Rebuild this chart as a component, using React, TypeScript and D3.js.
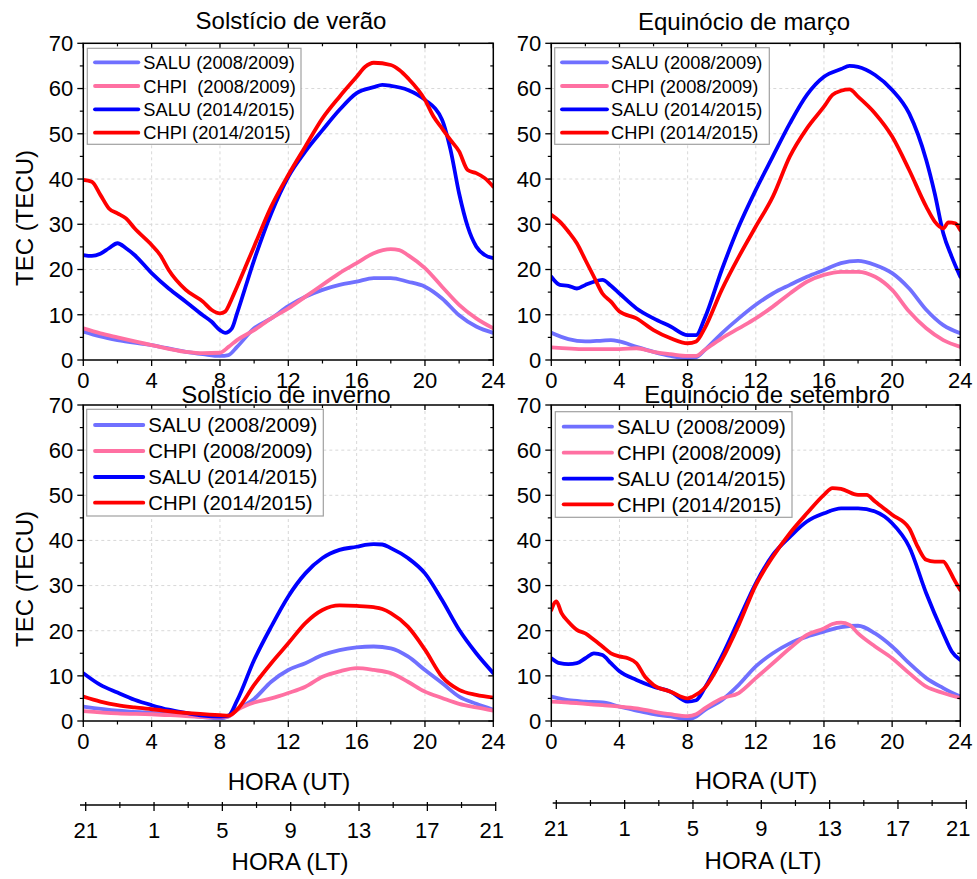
import React from "react";
import * as d3 from "d3";

type Pt = [number, number];

const utTicks = [0, 4, 8, 12, 16, 20, 24];
const tecTicks = [0, 10, 20, 30, 40, 50, 60, 70];
const ltLabels = ["21", "1", "5", "9", "13", "17", "21"];
const seriesColors = ["#7070FF", "#FF70A2", "#0000FF", "#FF0000"];
const titles = ["Solstício de verão", "Equinócio de março", "Solstício de inverno", "Equinócio de setembro"];
const legendLabels1 = ["SALU (2008/2009)", "CHPI  (2008/2009)", "SALU (2014/2015)", "CHPI (2014/2015)"];
const legendLabels = ["SALU (2008/2009)", "CHPI (2008/2009)", "SALU (2014/2015)", "CHPI (2014/2015)"];

// Solstício de verão
const veraoSalu08: Pt[] = [[0,6.3],[1,5.2],[2,4.4],[4,3.3],[6,1.8],[7,1.3],[8,0.9],[8.5,1.1],[9,2.9],[10,7.0],[11,9.2],[12,11.9],[13,14.0],[14,15.5],[15,16.6],[16,17.3],[17,18.1],[18,18.1],[19,17.3],[20,16.2],[21,13.6],[22,9.9],[23,7.4],[24,6.0]];
const veraoChpi08: Pt[] = [[0,7.0],[1,5.9],[2,5.0],[4,3.3],[6,1.8],[7,1.5],[8,1.6],[8.5,2.9],[9,4.4],[10,6.6],[11,9.2],[12,11.4],[13,14.0],[14,16.6],[15,19.2],[16,21.4],[17,23.6],[18,24.5],[18.5,24.3],[19,23.2],[20,20.3],[21,16.2],[22,12.2],[23,9.2],[24,7.0]];
const veraoSalu14: Pt[] = [[0,23.2],[0.5,23.0],[1,23.5],[1.5,24.7],[2,25.8],[2.5,24.7],[3,23.2],[4,19.2],[5,15.8],[6,12.9],[7,9.9],[7.5,8.5],[8,6.6],[8.3,6.0],[8.7,7.0],[9,10.3],[10,22.1],[11,32.4],[12,40.5],[13,46.1],[14,50.8],[15,55.3],[16,59.0],[17,60.3],[17.5,60.8],[18,60.6],[19,59.7],[20,57.5],[21,53.1],[21.5,46.4],[22,36.8],[22.5,29.5],[23,25.1],[23.5,23.2],[24,22.5]];
const veraoChpi14: Pt[] = [[0,39.8],[0.5,39.4],[1,36.5],[1.5,33.5],[2,32.4],[2.5,31.3],[3,29.1],[4,25.4],[4.5,23.2],[5,19.9],[6,15.5],[7,12.9],[7.5,11.1],[8,10.3],[8.3,10.7],[8.7,13.6],[9,16.2],[10,25.1],[11,33.9],[12,40.9],[13,47.2],[14,53.4],[15,58.2],[16,62.6],[16.5,64.8],[17,65.7],[18,65.2],[18.5,64.1],[19,62.3],[20,57.5],[20.5,53.8],[21,51.2],[21.5,48.6],[22,46.1],[22.5,42.0],[23,41.3],[23.5,40.2],[24,38.3]];

// Equinócio de março
const marcoSalu08: Pt[] = [[0,6.0],[1,4.6],[2,4.1],[3,4.3],[3.5,4.4],[4,4.1],[5,2.9],[6,1.8],[7,0.9],[8,0.4],[8.5,0.6],[9,2.2],[10,5.9],[11,9.2],[12,12.2],[13,14.7],[14,16.6],[15,18.4],[16,19.9],[17,21.4],[18,21.9],[19,21.0],[20,19.2],[21,15.8],[22,11.1],[23,7.7],[24,5.9]];
const marcoChpi08: Pt[] = [[0,2.8],[2,2.4],[4,2.4],[5,2.6],[6,1.8],[7,1.3],[8,0.9],[8.5,0.9],[9,2.2],[10,4.8],[11,7.0],[12,9.2],[13,11.8],[14,14.7],[15,17.3],[16,18.8],[17,19.5],[18,19.5],[19,18.4],[20,15.5],[21,10.7],[22,7.0],[23,4.4],[24,2.9]];
const marcoSalu14: Pt[] = [[0,18.4],[0.5,16.6],[1,16.4],[1.5,15.8],[2,16.6],[2.5,17.3],[3,17.7],[3.5,16.4],[4,14.7],[5,11.4],[6,9.2],[7,7.4],[8,5.5],[8.5,5.5],[9,9.2],[10,19.9],[11,29.5],[12,37.6],[13,45.0],[14,52.3],[15,58.6],[16,62.6],[17,64.3],[17.5,65.0],[18,64.8],[19,63.0],[20,59.7],[21,54.5],[22,44.2],[22.5,36.8],[23,28.0],[23.5,22.8],[24,18.4]];
const marcoChpi14: Pt[] = [[0,32.1],[0.5,30.6],[1,28.4],[1.5,25.8],[2,22.1],[2.5,18.4],[3,14.7],[3.5,12.9],[4,10.7],[5,9.2],[6,6.6],[7,4.8],[8,3.7],[8.5,4.1],[9,7.0],[10,15.5],[11,22.8],[12,29.5],[13,36.1],[14,45.0],[15,51.2],[16,56.0],[16.5,58.6],[17,59.5],[17.5,59.8],[18,58.2],[19,54.5],[20,49.4],[21,42.0],[22,33.9],[22.5,30.6],[23,29.1],[23.3,30.4],[23.7,30.2],[24,28.7]];

// Solstício de inverno
const invernoSalu08: Pt[] = [[0,3.2],[2,2.3],[4,1.8],[6,1.3],[8,0.6],[8.5,1.0],[9,2.5],[10,4.9],[11,8.7],[12,11.3],[13,12.8],[14,14.6],[15,15.7],[16,16.3],[17,16.5],[18,16.1],[19,14.3],[20,11.3],[21,8.4],[22,5.4],[23,3.8],[24,2.5]];
const invernoChpi08: Pt[] = [[0,2.2],[2,1.7],[4,1.5],[6,1.1],[8,0.8],[8.5,1.0],[9,2.4],[10,4.1],[11,5.0],[12,6.2],[13,7.6],[14,9.8],[15,11.0],[16,11.7],[17,11.3],[18,10.6],[19,8.7],[20,6.5],[21,5.1],[22,3.8],[23,3.0],[24,2.3]];
const invernoSalu14: Pt[] = [[0,10.6],[1,8.0],[2,6.3],[3,4.7],[4,3.5],[5,2.5],[6,1.8],[7,1.2],[8,1.0],[8.5,1.2],[9,4.5],[10,13.5],[11,20.9],[12,27.6],[13,32.7],[14,36.1],[15,37.9],[16,38.6],[16.5,39.0],[17,39.2],[17.5,39.1],[18,38.3],[19,36.1],[20,32.7],[21,26.8],[22,20.2],[23,15.0],[24,10.6]];
const invernoChpi14: Pt[] = [[0,5.4],[1,4.3],[2,3.5],[3,3.0],[4,2.6],[6,1.8],[8,1.3],[8.5,1.2],[9,2.5],[10,8.0],[11,12.8],[12,17.2],[13,21.7],[14,24.6],[15,25.6],[16,25.5],[17,25.2],[17.5,24.8],[18,23.9],[19,20.9],[20,15.8],[21,9.8],[22,6.9],[23,5.8],[24,5.2]];

// Equinócio de setembro
const setembroSalu08: Pt[] = [[0,5.4],[1,4.6],[2,4.3],[3,4.1],[4,3.2],[5,2.3],[6,1.5],[7,1.0],[8,0.4],[8.5,1.0],[9,2.4],[10,4.6],[11,8.0],[12,12.1],[13,15.0],[14,17.2],[15,18.7],[16,19.8],[17,20.8],[18,21.1],[19,19.4],[20,16.5],[21,12.8],[22,9.5],[23,7.3],[24,5.4]];
const setembroChpi08: Pt[] = [[0,4.3],[1,4.1],[2,3.8],[3,3.5],[4,3.2],[5,2.8],[6,2.1],[7,1.5],[8,1.1],[8.5,1.5],[9,2.8],[10,5.0],[11,6.2],[12,9.5],[13,12.8],[14,16.1],[15,19.1],[16,20.5],[16.5,21.5],[17,21.8],[17.5,21.3],[18,19.4],[19,16.5],[20,13.9],[21,10.6],[22,7.6],[23,6.2],[24,5.1]];
const setembroSalu14: Pt[] = [[0,13.9],[0.5,12.8],[1,12.6],[1.5,12.8],[2,13.9],[2.5,15.0],[3,14.6],[3.5,12.8],[4,11.0],[5,9.1],[6,7.6],[7,6.5],[8,4.3],[8.5,4.6],[9,7.3],[10,14.3],[11,22.4],[12,30.5],[13,36.8],[14,40.8],[15,44.2],[16,46.0],[17,47.1],[18,47.1],[19,46.4],[20,43.8],[21,38.6],[22,28.3],[23,19.4],[23.5,15.4],[24,13.5]];
const setembroChpi14: Pt[] = [[0,24.6],[0.3,26.5],[0.6,23.9],[1,22.0],[1.5,20.2],[2,19.4],[2.5,18.0],[3,16.5],[3.5,15.0],[4,14.3],[4.5,13.9],[5,12.8],[5.5,9.8],[6,8.0],[7,6.5],[8,5.0],[8.3,5.4],[9,7.3],[10,13.5],[11,21.3],[12,30.1],[13,36.4],[14,41.6],[15,46.0],[16,50.1],[16.5,51.6],[17,51.4],[18,50.1],[18.5,50.1],[19,48.6],[20,45.7],[21,42.7],[21.5,38.6],[22,35.7],[22.5,35.3],[23,35.3],[23.3,33.8],[23.6,31.6],[24,29.0]];

const FONT = "'Liberation Sans', Arial, Helvetica, sans-serif";

type PanelCfg = {
  id: string;
  l: number; r: number; t: number; b: number;
  title: string; titleX: number; titleY: number;
  series: Pt[][];
  labels: string[];
  legend: { x0: number; x1: number; y0: number; y1: number; lx0: number; lx1: number; tx: number; rows: number[]; fs: number };
  yLabel: boolean;
  yLabelY: number;
};

const panels: PanelCfg[] = [
  {
    id: "p1", l: 83.3, r: 493.3, t: 43.3, b: 360,
    title: titles[0], titleX: 291, titleY: 29,
    series: [veraoSalu08, veraoChpi08, veraoSalu14, veraoChpi14],
    labels: legendLabels1,
    legend: { x0: 87.3, x1: 301, y0: 48.3, y1: 144.3, lx0: 95, lx1: 138.3, tx: 143.3, rows: [62.3, 86, 109.3, 132.7], fs: 18.3 },
    yLabel: true, yLabelY: 218,
  },
  {
    id: "p2", l: 551.3, r: 960.3, t: 43.3, b: 360,
    title: titles[1], titleX: 744, titleY: 30,
    series: [marcoSalu08, marcoChpi08, marcoSalu14, marcoChpi14],
    labels: legendLabels,
    legend: { x0: 554.7, x1: 769.3, y0: 47.7, y1: 144.3, lx0: 562, lx1: 607, tx: 611, rows: [62.3, 86, 109.3, 132.7], fs: 18.3 },
    yLabel: false, yLabelY: 218,
  },
  {
    id: "p3", l: 83.3, r: 493.3, t: 405, b: 721,
    title: titles[2], titleX: 286, titleY: 403,
    series: [invernoSalu08, invernoChpi08, invernoSalu14, invernoChpi14],
    labels: legendLabels,
    legend: { x0: 86.7, x1: 323.3, y0: 409.3, y1: 516, lx0: 95, lx1: 143.3, tx: 148.3, rows: [425, 451, 477, 502.7], fs: 20.4 },
    yLabel: true, yLabelY: 579,
  },
  {
    id: "p4", l: 551.3, r: 960.3, t: 405, b: 721,
    title: titles[3], titleX: 767, titleY: 403,
    series: [setembroSalu08, setembroChpi08, setembroSalu14, setembroChpi14],
    labels: legendLabels,
    legend: { x0: 555.3, x1: 792, y0: 411.7, y1: 517.3, lx0: 563.7, lx1: 612, tx: 617, rows: [426.7, 452.7, 478.7, 504.3], fs: 20.4 },
    yLabel: false, yLabelY: 579,
  },
];

function Panel({ p }: { p: PanelCfg }) {
  const x = d3.scaleLinear().domain([0, 24]).range([p.l, p.r]);
  const y = d3.scaleLinear().domain([0, 70]).range([p.b, p.t]);
  const line = d3
    .line<Pt>()
    .x((d) => x(d[0]))
    .y((d) => y(d[1]))
    .curve(d3.curveMonotoneX);
  const xMinor = d3.range(2, 24, 4);
  const yMinor = d3.range(5, 70, 10);
  const lg = p.legend;
  return (
    <g>
      <defs>
        <clipPath id={`clip-${p.id}`}>
          <rect x={p.l} y={p.t} width={p.r - p.l} height={p.b - p.t} />
        </clipPath>
      </defs>
      <rect x={p.l} y={p.t} width={p.r - p.l} height={p.b - p.t} fill="#fff" />
      {utTicks.slice(1, -1).map((h) => (
        <line key={`gx${h}`} x1={x(h)} x2={x(h)} y1={p.t} y2={p.b} stroke="#d8d8d8" strokeDasharray="3,3" strokeWidth={1} />
      ))}
      {tecTicks.slice(1, -1).map((v) => (
        <line key={`gy${v}`} x1={p.l} x2={p.r} y1={y(v)} y2={y(v)} stroke="#d8d8d8" strokeDasharray="3,3" strokeWidth={1} />
      ))}
      <g clipPath={`url(#clip-${p.id})`}>
        {p.series.map((s, i) => (
          <path key={i} d={line(s) || ""} fill="none" stroke={seriesColors[i]} strokeWidth={3.8} strokeLinejoin="round" strokeLinecap="round" />
        ))}
      </g>
      <rect x={p.l} y={p.t} width={p.r - p.l} height={p.b - p.t} fill="none" stroke="#000" strokeWidth={1.5} />
      {utTicks.map((h) => (
        <g key={`xt${h}`}>
          <line x1={x(h)} x2={x(h)} y1={p.b} y2={p.b + 6} stroke="#000" strokeWidth={1.3} />
          <line x1={x(h)} x2={x(h)} y1={p.t} y2={p.t + 5} stroke="#000" strokeWidth={1.3} />
          <text x={x(h)} y={p.b + 28} textAnchor="middle" fontSize={22} fontFamily={FONT} fill="#000">{h}</text>
        </g>
      ))}
      {xMinor.map((h) => (
        <g key={`xm${h}`}>
          <line x1={x(h)} x2={x(h)} y1={p.b} y2={p.b + 3.5} stroke="#000" strokeWidth={1.2} />
          <line x1={x(h)} x2={x(h)} y1={p.t} y2={p.t + 3} stroke="#000" strokeWidth={1.2} />
        </g>
      ))}
      {tecTicks.map((v) => (
        <g key={`yt${v}`}>
          <line x1={p.l - 6} x2={p.l} y1={y(v)} y2={y(v)} stroke="#000" strokeWidth={1.3} />
          <line x1={p.r - 5} x2={p.r} y1={y(v)} y2={y(v)} stroke="#000" strokeWidth={1.3} />
          <text x={p.l - 10} y={y(v)} dy="0.36em" textAnchor="end" fontSize={22} fontFamily={FONT} fill="#000">{v}</text>
        </g>
      ))}
      {yMinor.map((v) => (
        <g key={`ym${v}`}>
          <line x1={p.l - 3.5} x2={p.l} y1={y(v)} y2={y(v)} stroke="#000" strokeWidth={1.2} />
          <line x1={p.r - 3} x2={p.r} y1={y(v)} y2={y(v)} stroke="#000" strokeWidth={1.2} />
        </g>
      ))}
      <rect x={lg.x0} y={lg.y0} width={lg.x1 - lg.x0} height={lg.y1 - lg.y0} fill="#fff" stroke="#a0a0a0" strokeWidth={1.2} />
      {p.labels.map((lab, i) => (
        <g key={`lg${i}`}>
          <line x1={lg.lx0} x2={lg.lx1} y1={lg.rows[i]} y2={lg.rows[i]} stroke={seriesColors[i]} strokeWidth={3.8} strokeLinecap="round" />
          <text x={lg.tx} y={lg.rows[i]} dy="0.36em" fontSize={lg.fs} fontFamily={FONT} fill="#000" style={{ whiteSpace: "pre" }}>{lab}</text>
        </g>
      ))}
      <text x={p.titleX} y={p.titleY} textAnchor="middle" fontSize={24} fontFamily={FONT} fill="#000">{p.title}</text>
      {p.yLabel && (
        <text transform={`translate(33,${p.yLabelY}) rotate(-90)`} textAnchor="middle" fontSize={24} fontFamily={FONT} fill="#000">TEC (TECU)</text>
      )}
    </g>
  );
}

function LTAxis({ x0, y, lineStart, lastShift }: { x0: number; y: number; lineStart: number; lastShift: number }) {
  const lt = d3.scaleLinear().domain([0, 24]).range([x0, x0 + 410]);
  const majors = d3.range(0, 25, 4);
  const minors = d3.range(2, 24, 4);
  return (
    <g>
      <line x1={lineStart} x2={lt(24)} y1={y} y2={y} stroke="#000" strokeWidth={1.3} />
      {majors.map((h, i) => (
        <g key={`m${h}`}>
          <line x1={lt(h)} x2={lt(h)} y1={y - 3} y2={y + 6} stroke="#000" strokeWidth={1.3} />
          <text x={lt(h) + (i === majors.length - 1 ? lastShift : 0)} y={y + 33} textAnchor="middle" fontSize={22} fontFamily={FONT} fill="#000">{ltLabels[i]}</text>
        </g>
      ))}
      {minors.map((h) => (
        <line key={`n${h}`} x1={lt(h)} x2={lt(h)} y1={y - 3} y2={y + 3} stroke="#000" strokeWidth={1.2} />
      ))}
    </g>
  );
}

export default function App() {
  return (
    <svg width={977} height={879} style={{ position: "absolute", left: 0, top: 0, background: "#fff" }}>
      <rect x={0} y={0} width={977} height={879} fill="#fff" />
      {panels.map((p) => (
        <Panel key={p.id} p={p} />
      ))}
      <text x={289} y={790} textAnchor="middle" fontSize={24} fontFamily={FONT} fill="#000">HORA (UT)</text>
      <text x={756} y={789} textAnchor="middle" fontSize={24} fontFamily={FONT} fill="#000">HORA (UT)</text>
      <LTAxis x0={85.7} y={805} lineStart={80} lastShift={-4} />
      <LTAxis x0={556.3} y={803} lineStart={552.7} lastShift={-8} />
      <text x={290} y={870} textAnchor="middle" fontSize={24} fontFamily={FONT} fill="#000">HORA (LT)</text>
      <text x={763} y={869} textAnchor="middle" fontSize={24} fontFamily={FONT} fill="#000">HORA (LT)</text>
    </svg>
  );
}
